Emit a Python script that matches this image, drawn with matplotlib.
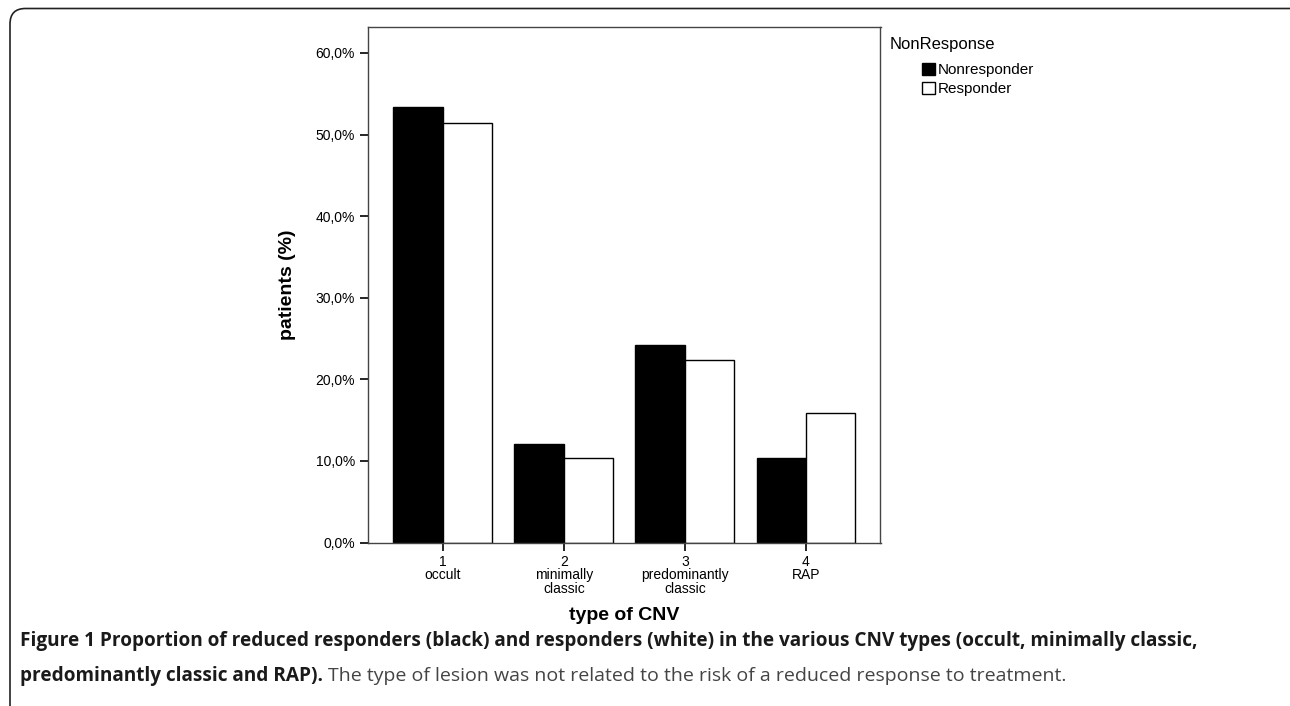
import matplotlib
matplotlib.use("Agg")
import matplotlib.pyplot as plt
import numpy as np
from matplotlib.patches import FancyBboxPatch, Patch

categories = ["1\noccult", "2\nminimally\nclassic", "3\npredominantly\nclassic", "4\nRAP"]
nonresponder = [53.4, 12.1, 24.2, 10.4]
responder = [51.4, 10.3, 22.4, 15.9]
yticks = [0, 10, 20, 30, 40, 50, 60]
ytick_labels = ["0,0%", "10,0%", "20,0%", "30,0%", "40,0%", "50,0%", "60,0%"]

W, H = 1290, 706
fig = plt.figure(figsize=(W / 100, H / 100), dpi=100)
plt.rcParams['font.family'] = ['Liberation Sans', 'DejaVu Sans']

# outer rounded border (extends beyond right/bottom edges)
border = FancyBboxPatch((10 / W, -0.05), 1.2, 1 - 8.5 / H + 0.05,
                        boxstyle="round,pad=0,rounding_size=0.012",
                        transform=fig.transFigure, fill=False,
                        edgecolor="#222222", linewidth=1.2, mutation_aspect=W / H)
fig.patches.append(border)

left, right, top, bottom = 367.5, 880.5, 26.5, 542.5
ax = fig.add_axes([left / W, 1 - bottom / H, (right - left) / W, (bottom - top) / H])

x = np.arange(1, len(categories) + 1)
bw = 0.408
ax.bar(x - bw / 2, nonresponder, width=bw, color="black", edgecolor="black", linewidth=1.0)
ax.bar(x + bw / 2, responder, width=bw, color="white", edgecolor="black", linewidth=1.0)

ax.set_xlim(0.378, 4.616)
ax.set_ylim(0, 63.24)
ax.set_yticks(yticks)
ax.set_yticklabels(ytick_labels, fontsize=10)
ax.set_xticks(x)
ax.set_xticklabels(categories, fontsize=10, linespacing=0.95)
ax.tick_params(axis="both", direction="out", length=6, width=1.2, color="black", pad=3)
for s in ax.spines.values():
    s.set_linewidth(1.0)
    s.set_color("#444444")

ax.set_xlabel("type of CNV", fontsize=14, fontweight="bold", labelpad=8)
ax.set_ylabel("patients (%)", fontsize=14, fontweight="bold", labelpad=14)

# legend
fig.text(890 / W, 1 - 45 / H, "NonResponse", fontsize=12, va="center", ha="left")
handles = [Patch(facecolor="black", edgecolor="black", label="Nonresponder"),
           Patch(facecolor="white", edgecolor="black", label="Responder")]
fig.legend(handles=handles, loc="upper left",
           bbox_to_anchor=(919 / W, 1 - 60 / H), frameon=False, fontsize=11,
           handlelength=0.85, handleheight=0.85,
           handletextpad=0.15, labelspacing=0.3,
           borderaxespad=0, borderpad=0.2)

cap_font = ['Open Sans', 'DejaVu Sans']
fs = 13.7
fig.text(20 / W, 1 - 641 / H,
         "Figure 1 Proportion of reduced responders (black) and responders (white) in the various CNV types (occult, minimally classic,",
         family=cap_font, fontweight="bold", fontsize=fs, va="center", ha="left", color="#1a1a1a")
t1 = fig.text(20 / W, 1 - 676 / H, "predominantly classic and RAP).",
              family=cap_font, fontweight="bold", fontsize=fs, va="center", ha="left", color="#1a1a1a")
fig.canvas.draw()
bb = t1.get_window_extent()
fig.text(bb.x1 / W + 5 / W, 1 - 676 / H,
         "The type of lesion was not related to the risk of a reduced response to treatment.",
         family=cap_font, fontsize=14.0, va="center", ha="left", color="#444444")

fig.savefig("out.png", dpi=100)
